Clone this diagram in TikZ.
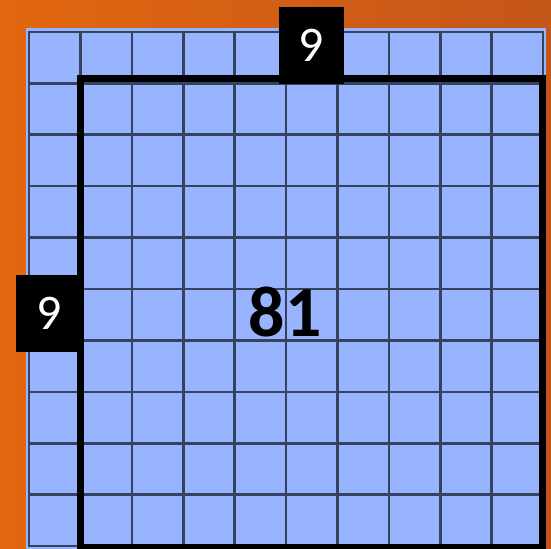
\documentclass[tikz,border=0pt]{standalone}
\usepackage{fontspec}
\setmainfont{Carlito}
\usetikzlibrary{positioning}
\definecolor{bgorange}{HTML}{E2670F}
\definecolor{bgdark}{HTML}{C4561A}
\definecolor{cellblue}{HTML}{99B4FF}
\definecolor{gridink}{HTML}{35435F}
\begin{document}
\begin{tikzpicture}[x=1bp,y=-1bp,
  gridrule/.style={draw=gridink, line width=2.6bp, line cap=rect},
  bigsquare/.style={draw=black, line width=7bp},
  sidelab/.style={fill=black, text=white, font=\fontsize{50}{50}\selectfont,
                  minimum width=65bp, minimum height=77bp, inner sep=0pt},
  arealab/.style={font=\fontsize{72}{72}\selectfont\bfseries, text=black, inner sep=0pt}]
\def\C{51.4}
% ---------------- background
\shade[left color=bgorange, right color=bgdark] (0,0) rectangle (551,549);
\useasboundingbox (0,0) rectangle (551,549);
% ---------------- 10 x 10 board
\fill[cellblue] (26,28) rectangle (546,549);
\foreach \i in {0,...,10} {
  \draw[gridrule] (29+\i*\C,32) -- (29+\i*\C,546);
  \draw[gridrule] (29,32+\i*\C) -- (543,32+\i*\C);
}
% ---------------- 9 x 9 part and labels
\draw[bigsquare] (80,79) rectangle (542,547);
\node[sidelab] (top) at (311,45.5) {9};
\node[sidelab] (left) at (49,313) {9};
\node[arealab] (area) at (285,311.5) {81};
\end{tikzpicture}
\end{document}
